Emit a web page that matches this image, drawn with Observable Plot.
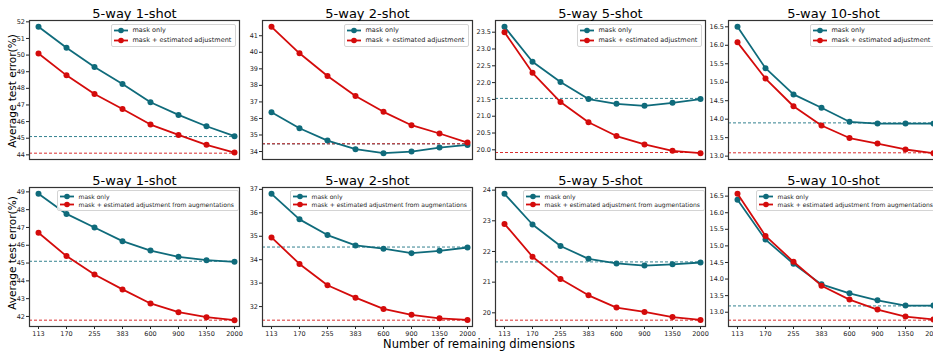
<!DOCTYPE html>
<html><head><meta charset="utf-8">
<script src="https://cdn.jsdelivr.net/npm/d3@7"></script>
<script src="https://cdn.jsdelivr.net/npm/@observablehq/plot@0.6"></script>
<style>
html,body{margin:0;padding:0;background:#fff;}
#chart{position:relative;width:933px;height:352px;overflow:hidden;font-family:"DejaVu Sans",sans-serif;color:#000;}
.panel{position:absolute;}
.legend{position:absolute;border:1px solid #d4d4d4;border-radius:2px;background:rgba(255,255,255,0.85);white-space:nowrap;color:#222;box-sizing:border-box;}
.legend .row{display:flex;align-items:center;}
.legend svg{display:block;margin-right:5px;}
.ytitle{position:absolute;font-size:10.5px;transform:translate(-50%,-50%) rotate(-90deg);white-space:nowrap;}
.xtitle{position:absolute;font-size:11.5px;transform:translate(-50%,-50%);white-space:nowrap;}
</style></head><body><div id="chart"></div>
<script>
const dims = [113, 170, 255, 383, 600, 900, 1350, 2000];
const titles = ["5-way 1-shot", "5-way 2-shot", "5-way 5-shot", "5-way 10-shot"];
const legendTop = ["mask only", "mask + estimated adjustment"];
const legendBottom = ["mask only", "mask + estimated adjustment from augmentations"];

// top row: mask only vs mask + estimated adjustment
const topMaskOnly = [
  [51.7, 50.44, 49.28, 48.26, 47.16, 46.4, 45.72, 45.12],
  [36.38, 35.41, 34.66, 34.14, 33.9, 34.0, 34.24, 34.4],
  [23.66, 22.62, 22.02, 21.51, 21.37, 21.31, 21.4, 21.51],
  [16.5, 15.38, 14.67, 14.31, 13.93, 13.88, 13.88, 13.88]
];
const topAdjusted = [
  [50.1, 48.78, 47.66, 46.76, 45.82, 45.2, 44.6, 44.14],
  [41.54, 39.94, 38.57, 37.36, 36.4, 35.59, 35.09, 34.54],
  [23.5, 22.29, 21.42, 20.82, 20.41, 20.16, 19.97, 19.9],
  [16.08, 15.1, 14.35, 13.83, 13.49, 13.34, 13.18, 13.08]
];
const topBaseMask = [45.1, 34.46, 21.53, 13.9];
const topBaseAdj = [44.1, 34.47, 19.92, 13.09];
const topYTicks = [
  [44, 45, 46, 47, 48, 49, 50, 51, 52],
  [34, 35, 36, 37, 38, 39, 40, 41],
  [20, 20.5, 21, 21.5, 22, 22.5, 23, 23.5],
  [13, 13.5, 14, 14.5, 15, 15.5, 16, 16.5]
];
const topFormats = ["d", "d", ".1f", ".1f"];

// bottom row: mask only vs mask + estimated adjustment from augmentations
const bottomMaskOnly = [
  [48.89, 47.76, 47.0, 46.23, 45.7, 45.35, 45.16, 45.07],
  [36.81, 35.72, 35.05, 34.61, 34.47, 34.28, 34.38, 34.52],
  [23.88, 22.88, 22.18, 21.76, 21.61, 21.54, 21.58, 21.64],
  [16.39, 15.19, 14.46, 13.84, 13.57, 13.36, 13.2, 13.2]
];
const bottomAugmented = [
  [46.7, 45.39, 44.36, 43.52, 42.73, 42.24, 41.96, 41.79],
  [34.95, 33.82, 32.91, 32.38, 31.9, 31.65, 31.5, 31.43],
  [22.9, 21.83, 21.1, 20.57, 20.17, 20.03, 19.86, 19.77],
  [16.57, 15.3, 14.52, 13.8, 13.38, 13.08, 12.87, 12.78]
];
const bottomBaseMask = [45.1, 34.54, 21.66, 13.19];
const bottomBaseAug = [41.79, 31.42, 19.76, 12.76];
const bottomYTicks = [
  [42, 43, 44, 45, 46, 47, 48, 49],
  [32, 33, 34, 35, 36, 37],
  [20, 21, 22, 23, 24],
  [13, 13.5, 14, 14.5, 15, 15.5, 16, 16.5]
];
const bottomFormats = ["d", "d", "d", ".1f"];

const TEAL = "#0f6b7b";
const RED = "#d40b0b";
const colLeft = [29, 262, 495, 728];
const rowTop = [20, 187];
const W = 210, H = 139;

const chart = document.getElementById("chart");

function addPanel(row, col, mask, other, baseMask, baseOther, yTicks, fmt, labels) {
  const L = colLeft[col], T = rowTop[row];
  const mL = 26, mR = 4, mT = 22, mB = row === 1 ? 16 : 4;
  const data = dims.map((d, i) => ({d, mask: mask[i], other: other[i]}));
  const all = [...mask, ...other, baseMask, baseOther];
  const lo = d3.min(all), hi = d3.max(all), pad = (hi - lo) * 0.05;
  const xOpts = {type: "point", domain: dims, padding: 0, insetLeft: 8.5, insetRight: 4};
  if (row === 0) xOpts.axis = null;
  const svg = Plot.plot({
    width: W + mL + mR, height: H + mT + mB,
    marginLeft: mL, marginRight: mR, marginTop: mT, marginBottom: mB,
    style: {background: "transparent", overflow: "visible", fontFamily: "DejaVu Sans", color: "#222", maxWidth: "none"},
    x: xOpts,
    y: {domain: [lo - pad, hi + pad]},
    marks: [
      Plot.ruleY([baseMask], {stroke: TEAL, strokeOpacity: 0.85, strokeWidth: 1, strokeDasharray: "3,2"}),
      Plot.ruleY([baseOther], {stroke: RED, strokeOpacity: 0.85, strokeWidth: 1, strokeDasharray: "3,2"}),
      Plot.line(data, {x: "d", y: "mask", stroke: TEAL, strokeWidth: 1.8}),
      Plot.dot(data, {x: "d", y: "mask", fill: TEAL, r: 3}),
      Plot.line(data, {x: "d", y: "other", stroke: RED, strokeWidth: 1.8}),
      Plot.dot(data, {x: "d", y: "other", fill: RED, r: 3}),
      Plot.axisY({ticks: yTicks, tickFormat: d3.format(fmt), tickSize: 3, tickPadding: 1.5, fontSize: 6.5, label: null}),
      row === 1 ? Plot.axisX({tickSize: 3, tickPadding: 1.5, fontSize: 6.5, label: null, tickFormat: d => String(d)}) : null,
      Plot.frame({stroke: "#333", strokeWidth: 1.2}),
      Plot.text([titles[col]], {text: d => d, frameAnchor: "top", lineAnchor: "bottom", dy: -3, fontSize: 13, fill: "#000"})
    ]
  });
  const wrap = document.createElement("div");
  wrap.className = "panel";
  wrap.style.left = (L - mL) + "px";
  wrap.style.top = (T - mT) + "px";
  wrap.appendChild(svg);
  chart.appendChild(wrap);

  // legend
  const lg = document.createElement("div");
  lg.className = "legend";
  const fs = row === 0 ? 6.5 : 6.05;
  const rh = row === 0 ? 9.7 : 8.7;
  lg.style.left = (L + (row === 0 ? 81.5 : 27.5)) + "px";
  lg.style.top = (T + (row === 0 ? 4 : 3)) + "px";
  lg.style.padding = (row === 0 ? "0.5px 4px 1.2px 2px" : "0.8px 4px 0.8px 2px");
  lg.style.fontSize = fs + "px";
  [[labels[0], TEAL], [labels[1], RED]].forEach(([t, c]) => {
    const r = document.createElement("div");
    r.className = "row";
    r.style.height = rh + "px";
    r.innerHTML = `<svg width="14" height="7"><line x1="0" y1="3.5" x2="14" y2="3.5" stroke="${c}" stroke-width="1.8"/><circle cx="7" cy="3.5" r="2.8" fill="${c}"/></svg><span>${t}</span>`;
    lg.appendChild(r);
  });
  chart.appendChild(lg);
}

for (let c = 0; c < 4; c++) {
  addPanel(0, c, topMaskOnly[c], topAdjusted[c], topBaseMask[c], topBaseAdj[c], topYTicks[c], topFormats[c], legendTop);
  addPanel(1, c, bottomMaskOnly[c], bottomAugmented[c], bottomBaseMask[c], bottomBaseAug[c], bottomYTicks[c], bottomFormats[c], legendBottom);
}

[[91, "Average test error(%)"], [253, "Average test error(%)"]].forEach(([y, t]) => {
  const d = document.createElement("div");
  d.className = "ytitle";
  d.style.left = "12px";
  d.style.top = y + "px";
  d.textContent = t;
  chart.appendChild(d);
});
const xt = document.createElement("div");
xt.className = "xtitle";
xt.style.left = "479px";
xt.style.top = "344px";
xt.textContent = "Number of remaining dimensions";
chart.appendChild(xt);
</script></body></html>
